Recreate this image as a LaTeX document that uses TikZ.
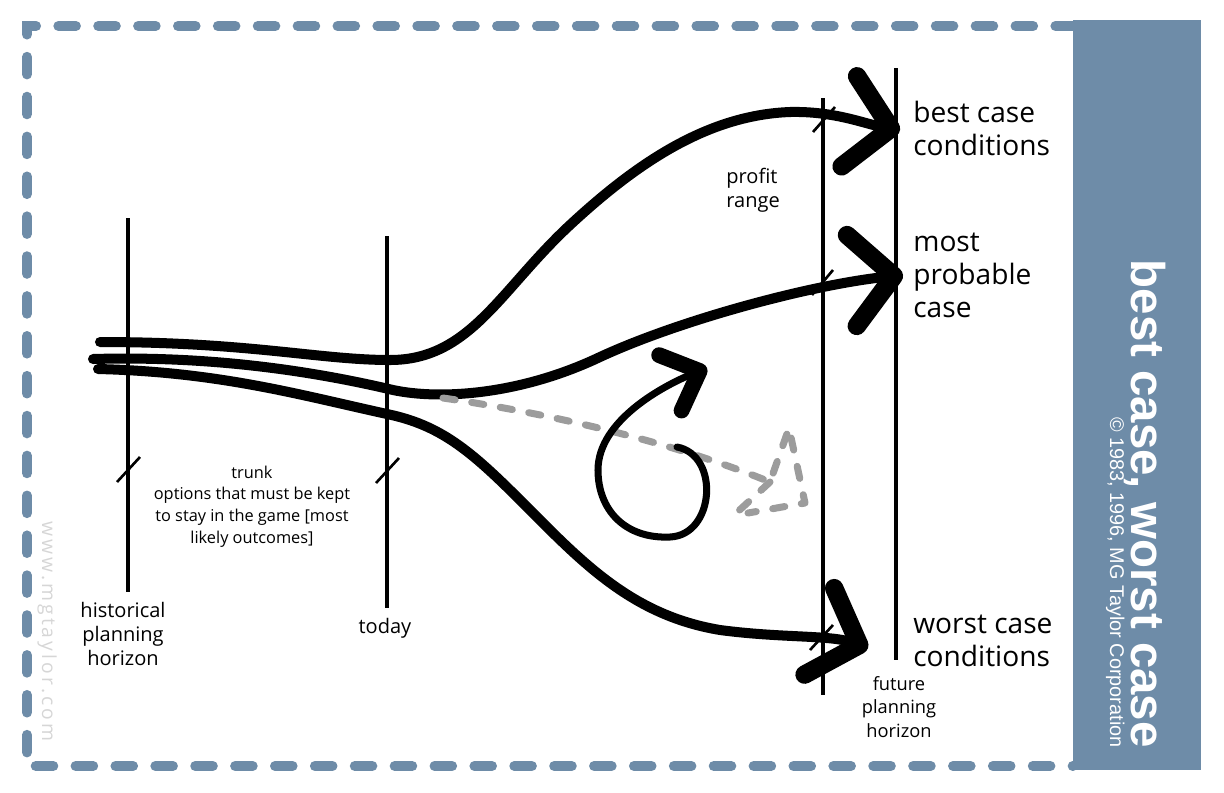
\documentclass[tikz,border=0pt]{standalone}
\usepackage{fontspec}
\setmainfont{Open Sans}
\newfontfamily\panelfont{Liberation Sans}
\usetikzlibrary{arrows.meta}
\definecolor{steel}{HTML}{6E8CA8}
\definecolor{ghostgray}{HTML}{9C9C9C}
\definecolor{urlgray}{HTML}{D6D6D6}

\begin{document}
\begin{tikzpicture}[x=0.02cm, y=-0.02cm,
    frame/.style={steel, line width=5.7pt, line cap=round, dash pattern=on 10pt off 12.7pt},
    horizon/.style={line width=1.8pt},
    notch/.style={line width=1.5pt},
    branch/.style={line width=5.7pt, line cap=round,
      -{Straight Barb[length=24pt, width=52pt, line width=10.5pt, round]}},
    loopline/.style={line width=4pt, line cap=round,
      -{Straight Barb[length=18pt, width=34pt, line width=9pt, round]}},
    ghost/.style={ghostgray, line width=4pt, line cap=round, line join=round,
      dash pattern=on 7pt off 9.5pt},
    casetext/.style={font=\fontsize{16pt}{18.7pt}\selectfont, align=left,
      inner sep=0pt, anchor=base west},
    axistext/.style={font=\fontsize{11.4pt}{13.4pt}\selectfont, align=center,
      inner sep=0pt, anchor=base},
    trunktext/.style={font=\fontsize{9.3pt}{12.3pt}\selectfont, align=center,
      inner sep=0pt, anchor=base},
    paneltext/.style={white, inner sep=0pt, rotate=-90, anchor=base east},
  ]
  \useasboundingbox (0,0) rectangle (1224,792);

  % dashed frame and side panel
  \draw[frame] (1073,26) -- (27,26) -- (27,766) -- (1073,766);
  \fill[steel] (1073,20) rectangle (1201,770);
  \node[paneltext, font=\panelfont\bfseries\fontsize{27pt}{30pt}\selectfont]
    (title) at (1131,748) {best case, worst case};
  \node[paneltext, font=\panelfont\fontsize{11.3pt}{13pt}\selectfont]
    (copy) at (1110,748) {© 1983, 1996, MG Taylor Corporation};
  \node[paneltext, urlgray, font=\fontsize{11pt}{13pt}\selectfont\addfontfeature{LetterSpace=16}]
    (url) at (42,742) {www.mgtaylor.com};

  % planning horizons
  \draw[horizon] (128,218) -- (128,592);
  \draw[horizon] (387,236) -- (387,608);
  \draw[horizon] (823,98) -- (823,695);
  \draw[horizon] (896,68) -- (896,660);
  \draw[notch] (117,482) -- (140,457);
  \draw[notch] (376,483) -- (399,458);
  \draw[notch] (813,132) -- (835,107);
  \draw[notch] (812,295) -- (833,270);
  \draw[notch] (810,650) -- (833,625);

  % labels (anchored on the baseline of their last line)
  \node[casetext] (best) at (913,155) {best case\\conditions};
  \node[casetext] (probable) at (913,317) {most\\probable\\case};
  \node[casetext] (worst) at (913,666) {worst case\\conditions};
  \node[axistext] (history) at (123,665) {historical\\planning\\horizon};
  \node[axistext] (today) at (385,633) {today};
  \node[axistext, align=left, anchor=base west] (profit) at (726,207) {profit\\range};
  \node[axistext, font=\fontsize{10.4pt}{13.3pt}\selectfont] (future) at (899,737)
    {future\\planning\\horizon};
  \node[trunktext] (trunk) at (252,543)
    {trunk\\options that must be kept\\to stay in the game [most\\likely outcomes]};

  % branches
  \coordinate (bestfrom) at (100,342);
  \coordinate (besttip) at (900,130);
  \coordinate (probfrom) at (93,359);
  \coordinate (probtip) at (903,275);
  \coordinate (worstfrom) at (98,369);
  \coordinate (worsttip) at (868,648);

  \draw[branch] (bestfrom) .. controls (250,342) and (320,360) .. (390,360)
    .. controls (470,360) and (500,290) .. (570,225)
    .. controls (640,160) and (710,115) .. (790,112)
    .. controls (835,111) and (865,124) .. (besttip);
  \draw[branch] (probfrom) .. controls (200,356) and (300,368) .. (393,390)
    .. controls (440,400) and (520,395) .. (600,357)
    .. controls (680,320) and (810,285) .. (probtip);
  \draw[branch] (worstfrom) .. controls (220,372) and (300,395) .. (387,414)
    .. controls (440,425) and (470,450) .. (520,500)
    .. controls (580,560) and (630,615) .. (720,630)
    .. controls (780,638) and (830,635) .. (worsttip);

  % stray option
  \coordinate (ghostfrom) at (443,398);
  \coordinate (ghostknee) at (770,482);
  \coordinate (ghostapex) at (789,428);
  \coordinate (ghostright) at (805,503);
  \coordinate (ghostfoot) at (748,513);
  \coordinate (ghostleft) at (732,517);
  \draw[ghost] (ghostfrom) .. controls (560,415) and (680,445) .. (ghostknee)
    -- (ghostapex) -- (ghostright) -- (ghostfoot);
  \draw[ghost] (ghostknee) -- (ghostleft);

  % loop
  \coordinate (loopfrom) at (677,447);
  \coordinate (looptip) at (707,368);
  \draw[loopline] (loopfrom) .. controls (720,455) and (715,535) .. (670,537)
    .. controls (625,539) and (598,510) .. (598,470)
    .. controls (598,420) and (665,385) .. (looptip);
\end{tikzpicture}
\end{document}
